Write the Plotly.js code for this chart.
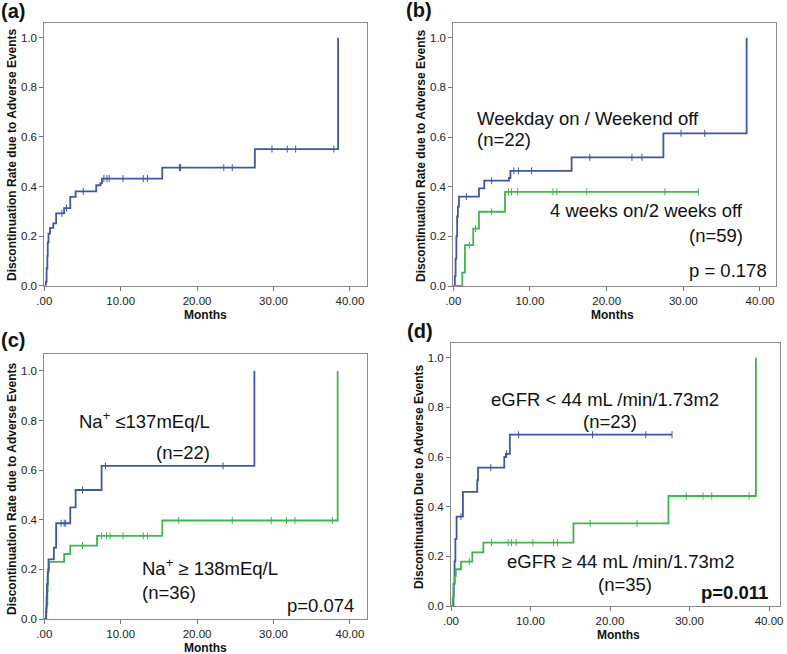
<!DOCTYPE html>
<html>
<head>
<meta charset="utf-8">
<script src="https://cdn.plot.ly/plotly-3.0.1.min.js"></script>
<style>html,body{margin:0;padding:0;background:#fff;}#chart{width:787px;height:654px;}</style>
</head>
<body>
<div id="chart"></div>
<script>
// ---- Data ----
// Panel (a): all patients
const aTimes = [0, 0.2, 0.3, 0.4, 0.45, 0.55, 0.75, 1.18, 1.55, 2.6, 3.4, 4.1, 6.8, 7.35, 7.55, 15.44, 27.56, 38.46];
const aRates = [0, 0.016, 0.07, 0.12, 0.175, 0.21, 0.233, 0.251, 0.292, 0.313, 0.358, 0.380, 0.405, 0.413, 0.432, 0.476, 0.551, 1.0];
const aCensored = [2.3, 2.9, 5.1, 7.8, 8.2, 8.5, 10.3, 12.95, 13.5, 17.7, 17.85, 23.5, 24.6, 29.8, 31.8, 32.9, 37.9];

// Panel (b): Weekday on / Weekend off (blue) vs 4 weeks on / 2 weeks off (green)
const bBlueTimes = [0, 0.2, 0.3, 0.4, 0.5, 0.6, 0.74, 3.35, 4.04, 7.26, 7.45, 15.43, 27.4, 38.26];
const bBlueRates = [0, 0.04, 0.11, 0.2, 0.28, 0.32, 0.36, 0.393, 0.424, 0.435, 0.464, 0.518, 0.615, 1.0];
const bBlueCensored = [1.7, 5.0, 7.9, 8.5, 10.2, 17.8, 23.3, 24.6, 29.7, 32.8];
const bGreenTimes = [0, 1.17, 1.52, 2.6, 3.35, 6.74, 31.96];
const bGreenRates = [0, 0.054, 0.165, 0.231, 0.299, 0.379, 0.379];
const bGreenCensored = [2.1, 2.9, 5.0, 7.2, 7.6, 8.4, 13.0, 13.5, 17.4, 27.6, 31.96];

// Panel (c): Na+ <=137 (blue) vs Na+ >=138 (green)
const cBlueTimes = [0, 0.25, 0.3, 0.35, 0.45, 0.55, 1.25, 1.55, 3.4, 4.1, 7.5, 27.5];
const cBlueRates = [0, 0.045, 0.09, 0.14, 0.19, 0.24, 0.288, 0.386, 0.45, 0.52, 0.617, 1.0];
const cBlueCensored = [2.2, 2.6, 2.8, 5.0, 8.0, 23.4];
const cGreenTimes = [0, 0.2, 0.3, 0.4, 0.45, 0.5, 0.62, 2.6, 3.4, 6.9, 15.45, 38.4];
const cGreenRates = [0, 0.028, 0.056, 0.11, 0.17, 0.20, 0.23, 0.262, 0.296, 0.335, 0.397, 1.0];
const cGreenCensored = [5.0, 7.5, 8.15, 8.6, 10.3, 12.95, 13.5, 17.6, 24.6, 29.7, 31.7, 32.8, 37.7];

// Panel (d): eGFR < 44 (blue) vs eGFR >= 44 (green)
const dBlueTimes = [0, 0.3, 0.35, 0.45, 0.55, 0.7, 1.5, 3.3, 3.4, 6.7, 6.9, 7.4, 27.8];
const dBlueRates = [0, 0.04, 0.09, 0.18, 0.27, 0.36, 0.46, 0.507, 0.557, 0.60, 0.613, 0.69, 0.69];
const dBlueCensored = [1.25, 5.0, 7.0, 8.5, 17.8, 24.5, 27.8];
const dGreenTimes = [0, 0.2, 0.3, 0.45, 0.6, 1.26, 2.68, 4.07, 15.4, 27.35, 38.35];
const dGreenRates = [0, 0.03, 0.09, 0.12, 0.148, 0.179, 0.216, 0.255, 0.333, 0.443, 1.0];
const dGreenCensored = [2.3, 5.1, 7.2, 7.6, 8.2, 10.3, 12.9, 13.4, 17.5, 23.4, 29.6, 31.7, 32.8, 37.5];

// Tick labels
const xTickVals = [0, 10, 20, 30, 40];
const xTickText = ['.00', '10.00', '20.00', '30.00', '40.00'];
const yTickVals = [0, 0.2, 0.4, 0.6, 0.8, 1.0];
const yTickText = ['0.0', '0.2', '0.4', '0.6', '0.8', '1.0'];

// ---- Styles ----
const BLUE = '#4056a8';
const GREEN = '#3fb64b';
const W = 787, H = 654;
const FONT = 'Arial, "Liberation Sans", sans-serif';

function stepAt(t, times, vals) {
  let v = vals[0];
  for (let i = 0; i < times.length; i++) { if (times[i] <= t) v = vals[i]; }
  return v;
}

const traces = [];
function addCurve(axis, times, rates, censored, color) {
  traces.push({
    type: 'scatter', mode: 'lines', x: times, y: rates,
    line: {shape: 'hv', color: color, width: 1.8},
    xaxis: 'x' + axis, yaxis: 'y' + axis, hoverinfo: 'skip', showlegend: false
  });
  traces.push({
    type: 'scatter', mode: 'markers', x: censored,
    y: censored.map(t => stepAt(t, times, rates)),
    marker: {symbol: 'line-ns', size: 5, color: color, line: {color: color, width: 1}},
    xaxis: 'x' + axis, yaxis: 'y' + axis, hoverinfo: 'skip', showlegend: false
  });
}
addCurve('', aTimes, aRates, aCensored, BLUE);
addCurve('2', bBlueTimes, bBlueRates, bBlueCensored, BLUE);
addCurve('2', bGreenTimes, bGreenRates, bGreenCensored, GREEN);
addCurve('3', cGreenTimes, cGreenRates, cGreenCensored, GREEN);
addCurve('3', cBlueTimes, cBlueRates, cBlueCensored, BLUE);
addCurve('4', dBlueTimes, dBlueRates, dBlueCensored, BLUE);
addCurve('4', dGreenTimes, dGreenRates, dGreenCensored, GREEN);

// Panel boxes in pixels: [left, right, top, bottom], x max, y max
const boxes = [
  {l: 44.3, r: 366.7, t: 23.3, b: 285.7, xmax: 42.2, ymax: 1.058},
  {l: 453.3, r: 775.7, t: 23.3, b: 286, xmax: 42.05, ymax: 1.058},
  {l: 44.3, r: 366.7, t: 354.3, b: 619, xmax: 42.2, ymax: 1.067},
  {l: 451, r: 780, t: 343.3, b: 606, xmax: 41.38, ymax: 1.058}
];

const layout = {
  width: W, height: H,
  margin: {l: 0, r: 0, t: 0, b: 0},
  paper_bgcolor: '#fff', plot_bgcolor: '#fff',
  showlegend: false,
  font: {family: FONT, color: '#111'},
  annotations: []
};
const suffix = ['', '2', '3', '4'];
boxes.forEach((bx, i) => {
  layout['xaxis' + suffix[i]] = {
    domain: [bx.l / W, bx.r / W], range: [0, bx.xmax], anchor: 'y' + suffix[i],
    tickvals: xTickVals, ticktext: xTickText, ticks: 'outside', ticklen: 4, tickcolor: '#777',
    showline: true, mirror: true, linecolor: '#8a8a8a', linewidth: 1,
    showgrid: false, zeroline: false, tickfont: {size: 11.5, color: '#222', family: FONT}
  };
  layout['yaxis' + suffix[i]] = {
    domain: [1 - bx.b / H, 1 - bx.t / H], range: [0, bx.ymax], anchor: 'x' + suffix[i],
    tickvals: yTickVals, ticktext: yTickText, ticks: 'outside', ticklen: 4, tickcolor: '#777',
    showline: true, mirror: true, linecolor: '#8a8a8a', linewidth: 1,
    showgrid: false, zeroline: false, tickfont: {size: 11.5, color: '#222', family: FONT}
  };
});

function ann(text, px, py, opts) {
  layout.annotations.push(Object.assign({
    text: text, x: px / W, y: 1 - py / H, xref: 'paper', yref: 'paper',
    showarrow: false, xanchor: 'center', yanchor: 'middle',
    font: {family: FONT, size: 18.5, color: '#111'}
  }, opts || {}));
}
const bold = (s) => ({family: FONT, size: s, color: '#111', weight: 'bold'});

// Panel labels
ann('<b>(a)</b>', 13, 11, {font: bold(20)});
ann('<b>(b)</b>', 419, 10, {font: bold(20)});
ann('<b>(c)</b>', 13, 340, {font: bold(20)});
ann('<b>(d)</b>', 420, 331, {font: bold(20)});

// Axis titles
ann('<b>Discontinuation Rate due to Adverse Events</b>', 12, 155, {textangle: -90, font: bold(12)});
ann('<b>Discontinuation Rate due to Adverse Events</b>', 421, 155, {textangle: -90, font: bold(12)});
ann('<b>Discontinuation Rate due to Adverse Events</b>', 12, 489, {textangle: -90, font: bold(12)});
ann('<b>Discontinuation Due to Adverse Events</b>', 419, 477, {textangle: -90, font: bold(12)});
ann('<b>Months</b>', 205, 315, {font: bold(12)});
ann('<b>Months</b>', 612, 315, {font: bold(12)});
ann('<b>Months</b>', 205, 648, {font: bold(12)});
ann('<b>Months</b>', 618, 635, {font: bold(12)});

// Panel (b) texts
ann('Weekday on / Weekend off', 475, 118, {xanchor: 'left'});
ann('(n=22)', 475, 139, {xanchor: 'left'});
ann('4 weeks on/2 weeks off', 745, 210, {xanchor: 'right'});
ann('(n=59)', 745, 235, {xanchor: 'right'});
ann('p = 0.178', 769, 271, {xanchor: 'right'});

// Panel (c) texts
ann('Na<sup>+</sup> ≤137mEq/L', 77, 420, {xanchor: 'left'});
ann('(n=22)', 212, 453, {xanchor: 'right'});
ann('Na<sup>+</sup> ≥ 138mEq/L', 140, 567, {xanchor: 'left'});
ann('(n=36)', 140, 592, {xanchor: 'left'});
ann('p=0.074', 356, 605, {xanchor: 'right'});

// Panel (d) texts
ann('eGFR < 44 mL /min/1.73m2', 605, 399);
ann('(n=23)', 610, 421);
ann('eGFR ≥ 44 mL /min/1.73m2', 620, 561);
ann('(n=35)', 625, 584);
ann('<b>p=0.011</b>', 770, 592, {xanchor: 'right', font: bold(18.5)});

Plotly.newPlot('chart', traces, layout, {displayModeBar: false, staticPlot: true});
</script>
</body>
</html>
